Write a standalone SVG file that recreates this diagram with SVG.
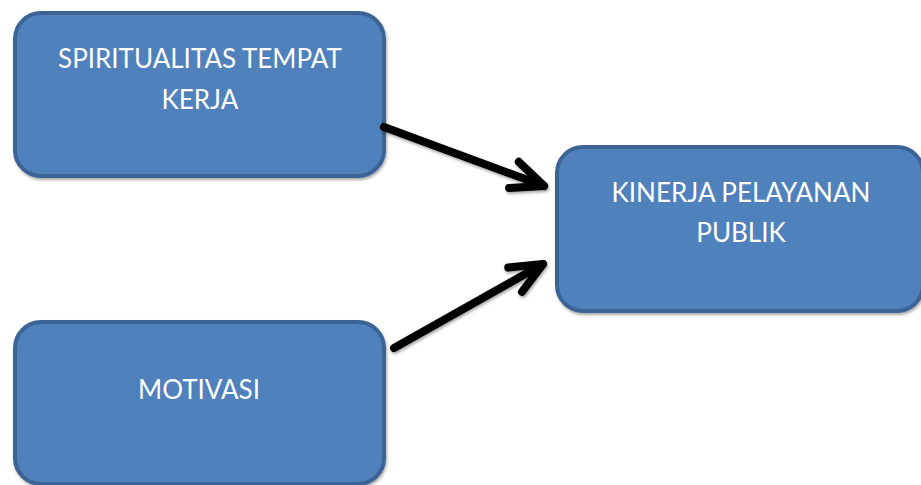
<svg xmlns="http://www.w3.org/2000/svg" width="921" height="485" viewBox="0 0 921 485">
<defs>
<style>
.box{fill:#4f81bd;stroke:#3b6496;stroke-width:4}
.lbl{fill:#ffffff;font-family:Lato,"Open Sans","Liberation Sans",sans-serif;font-size:26px;text-anchor:middle}
.con{fill:none;stroke:#000000;stroke-width:8;stroke-linecap:round;stroke-linejoin:round}
</style>
<filter id="sh" x="-10%" y="-10%" width="130%" height="130%">
<feGaussianBlur in="SourceAlpha" stdDeviation="1.5"/>
<feOffset dx="1" dy="2" result="b"/>
<feComponentTransfer><feFuncA type="linear" slope="0.35"/></feComponentTransfer>
<feMerge><feMergeNode/><feMergeNode in="SourceGraphic"/></feMerge>
</filter>
<marker id="ah" markerUnits="userSpaceOnUse" markerWidth="60" markerHeight="60" refX="0" refY="0" viewBox="-40 -30 60 60" orient="auto" overflow="visible">
<path d="M -32 -14 L 0 0 L -32 14" fill="none" stroke="#000" stroke-width="8" stroke-linecap="round" stroke-linejoin="round"/>
</marker>
</defs>
<g id="node-spiritualitas">
<rect class="box" x="15" y="13" width="369" height="163" rx="26" filter="url(#sh)"/>
<text class="lbl" x="200" y="68">SPIRITUALITAS TEMPAT</text>
<text class="lbl" x="200" y="109">KERJA</text>
</g>
<g id="node-kinerja">
<rect class="box" x="557" y="147" width="366" height="164" rx="26" filter="url(#sh)"/>
<text class="lbl" x="741" y="202">KINERJA PELAYANAN</text>
<text class="lbl" x="741" y="242">PUBLIK</text>
</g>
<g id="node-motivasi">
<rect class="box" x="15" y="322" width="369" height="162" rx="26" filter="url(#sh)"/>
<text class="lbl" x="199" y="399">MOTIVASI</text>
</g>
<g id="connectors" filter="url(#sh)">
<line class="con" x1="384" y1="127" x2="544" y2="186" marker-end="url(#ah)"/>
<line class="con" x1="394" y1="348" x2="543" y2="264" marker-end="url(#ah)"/>
</g>
</svg>
